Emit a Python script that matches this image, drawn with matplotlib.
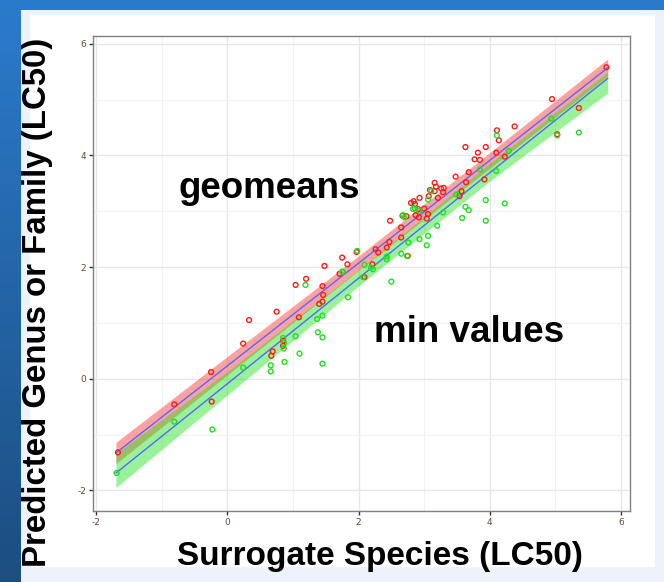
import numpy as np
import matplotlib.pyplot as plt
from matplotlib.patches import Rectangle
from matplotlib.colors import LinearSegmentedColormap

plt.rcParams['axes.unicode_minus'] = False

# geomeans (red) : surrogate species vs predicted genus/family
geo_x = [-1.67, -0.81, -0.25, -0.24, 0.24, 0.33, 0.67, 0.69, 0.75, 0.85, 0.85,
         1.04, 1.09, 1.20, 1.40, 1.45, 1.45, 1.46, 1.48, 1.71, 1.75, 1.83, 1.97,
         2.09, 2.21, 2.26, 2.30, 2.43, 2.48, 2.47, 2.65, 2.65, 2.67, 2.73, 2.75,
         2.80, 2.84, 2.86, 2.87, 2.91, 2.92, 2.93, 3.00, 3.04, 3.06, 3.07, 3.09,
         3.16, 3.16, 3.18, 3.21, 3.26, 3.29, 3.30, 3.48, 3.57, 3.54, 3.63, 3.64,
         3.68, 3.77, 3.82, 3.85, 3.94, 3.92, 4.10, 4.11, 4.14, 4.23, 4.38, 4.95,
         5.03, 5.36, 5.78]
geo_y = [-1.32, -0.46, 0.12, -0.41, 0.63, 1.05, 0.41, 0.49, 1.20, 0.68, 0.59,
         1.68, 1.10, 1.79, 1.34, 1.38, 1.66, 1.50, 2.02, 1.88, 2.17, 2.05, 2.27,
         1.82, 2.05, 2.32, 2.26, 2.35, 2.83, 2.45, 2.71, 2.53, 2.92, 2.91, 2.20,
         3.15, 3.18, 3.13, 2.93, 3.04, 2.89, 3.24, 3.05, 2.87, 2.95, 3.27, 3.38,
         3.51, 3.36, 3.44, 3.24, 3.41, 3.34, 3.42, 3.62, 3.36, 3.27, 4.15, 3.52,
         3.70, 3.93, 4.05, 3.92, 4.15, 3.57, 4.05, 4.45, 4.27, 3.98, 4.52, 5.01,
         4.38, 4.85, 5.58]

# min values (green)
min_x = [-1.69, -0.81, -0.23, 0.24, 0.66, 0.66, 0.87, 0.86, 0.86, 0.85, 1.04,
         1.10, 1.19, 1.37, 1.45, 1.38, 1.45, 1.45, 1.75, 1.76, 1.84, 1.98, 2.07,
         2.09, 2.19, 2.22, 2.43, 2.43, 2.50, 2.65, 2.68, 2.70, 2.74, 2.76, 2.83,
         2.86, 2.93, 2.93, 3.04, 3.06, 3.06, 3.11, 3.20, 3.29, 3.49, 3.58, 3.63,
         3.68, 3.85, 3.94, 3.94, 4.10, 4.11, 4.23, 4.29, 4.94, 5.03, 5.36]
min_y = [-1.69, -0.77, -0.91, 0.20, 0.24, 0.13, 0.30, 0.54, 0.64, 0.73, 0.76,
         0.45, 1.68, 1.07, 1.13, 0.83, 0.74, 0.27, 1.92, 1.91, 1.46, 2.29, 1.82,
         2.04, 1.99, 1.96, 2.19, 2.14, 1.74, 2.24, 2.93, 2.89, 2.20, 2.44, 3.04,
         3.05, 2.50, 3.01, 2.39, 2.56, 3.21, 3.36, 2.74, 2.98, 3.30, 2.88, 3.08,
         3.02, 3.75, 3.20, 2.83, 3.72, 4.36, 3.14, 4.08, 4.66, 4.36, 4.41]

# fitted lines and bands
fit_x = [-1.7, 0.0, 2.0, 4.0, 5.8]
geo_fit = [-1.33, 0.23, 2.07, 3.91, 5.57]
geo_lo = [-1.52, 0.07, 1.94, 3.77, 5.42]
geo_hi = [-1.14, 0.40, 2.20, 4.05, 5.73]
min_fit = [-1.69, -0.09, 1.80, 3.69, 5.38]
min_lo = [-1.95, -0.29, 1.66, 3.54, 5.12]
min_hi = [-1.34, 0.13, 1.95, 3.86, 5.50]

ticks = [-2, 0, 2, 4, 6]
minor = [-1, 1, 3, 5]

fig = plt.figure(figsize=(6.64, 5.82), dpi=100)

# slide background: blue gradient, pale frame, white card
bg = fig.add_axes([0, 0, 1, 1], zorder=-10)
grad = np.linspace(0, 1, 256).reshape(-1, 1)
cmap = LinearSegmentedColormap.from_list('slide', ['#2b7bcc', '#1c4e80'])
bg.imshow(grad, aspect='auto', cmap=cmap, extent=[0, 1, 0, 1], origin='upper')
bg.set_xlim(0, 1)
bg.set_ylim(0, 1)
bg.axis('off')
W, H = 664, 582
bg.add_patch(Rectangle((21 / W, 0), 1, 1 - 10 / H, color='#eef2fa', lw=0))
bg.add_patch(Rectangle((30 / W, 1 - 567 / H), (655 - 30) / W, (567 - 15) / H,
                       color='white', lw=0))

ax = fig.add_axes([93 / W, 1 - 511 / H, (630 - 93) / W, (511 - 36) / H])
ax.set_facecolor('white')

ax.fill_between(fit_x, geo_lo, geo_hi, color='#ff3030', alpha=0.45, lw=0, zorder=2)
ax.fill_between(fit_x, min_lo, min_hi, color='#20e020', alpha=0.45, lw=0, zorder=2)
ax.plot(fit_x, geo_fit, color='#4d6bff', lw=1.0, zorder=3)
ax.plot(fit_x, min_fit, color='#4d6bff', lw=1.0, zorder=3)

ax.scatter(geo_x, geo_y, s=12, facecolors='none', edgecolors='#ff1a1a',
           linewidths=1.0, zorder=4)
ax.scatter(min_x, min_y, s=12, facecolors='none', edgecolors='#22dd22',
           linewidths=1.0, zorder=4)

ax.set_xlim(-2.05, 6.14)
ax.set_ylim(-2.37, 6.14)
ax.set_xticks(ticks)
ax.set_yticks(ticks)
ax.set_xticks(minor, minor=True)
ax.set_yticks(minor, minor=True)
ax.grid(True, which='major', color='#e6e6e6', lw=1.0, zorder=0)
ax.grid(True, which='minor', color='#f2f2f2', lw=0.8, zorder=0)
ax.set_axisbelow(True)
ax.tick_params(which='major', length=3, width=1, color='#333333',
               labelsize=6.5, labelcolor='#5a4a3a', pad=2)
ax.tick_params(which='minor', length=0)
for sp in ax.spines.values():
    sp.set_color('#808080')
    sp.set_linewidth(1.0)

fig.text(269 / W, 1 - 188 / H, 'geomeans', fontsize=26.5, fontweight='bold',
         family='Liberation Sans', ha='center', va='center')
fig.text(469 / W, 1 - 333 / H, 'min values', fontsize=26.5, fontweight='bold',
         family='Liberation Sans', ha='center', va='center')

fig.text(380 / W, 1 - 557 / H, 'Surrogate Species (LC50)', fontsize=24,
         fontweight='bold', family='Liberation Sans', ha='center', va='center')
fig.text(38 / W, 1 - 302 / H, 'Predicted Genus or Family (LC50)', fontsize=23.8,
         fontweight='bold', family='Liberation Sans', ha='center', va='center',
         rotation=90)

fig.savefig('out.png', dpi=100)
